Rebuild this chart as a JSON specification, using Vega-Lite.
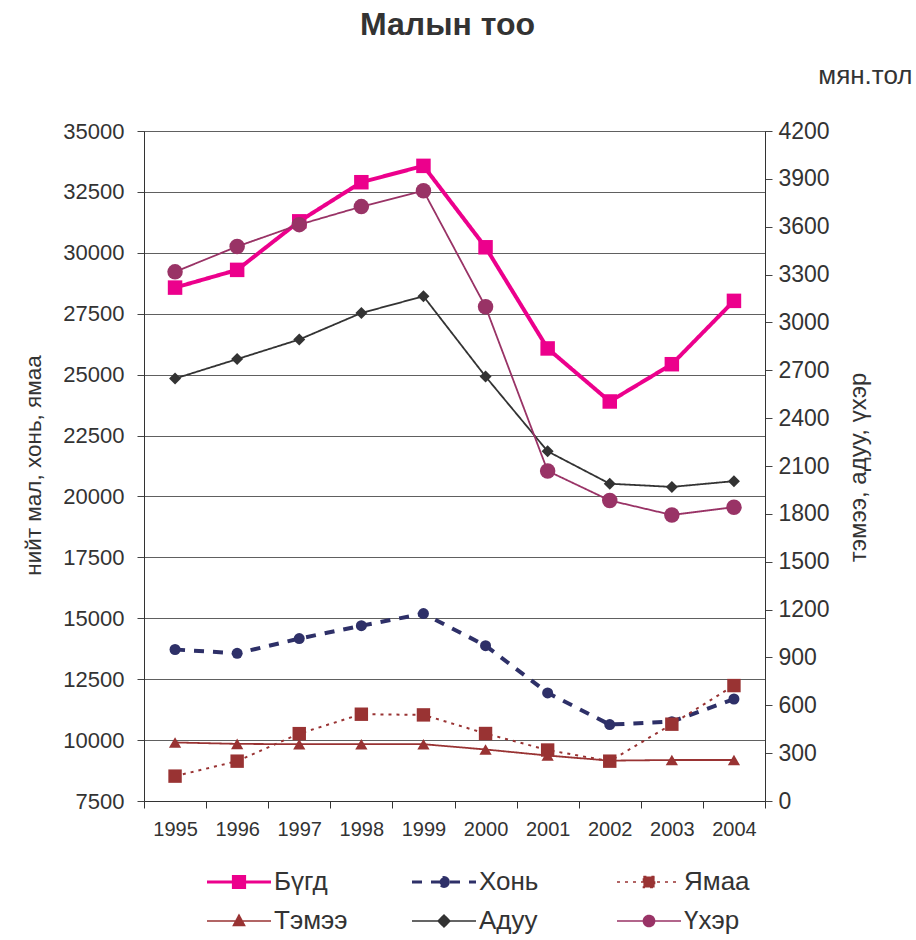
{
  "$schema": "https://vega.github.io/schema/vega-lite/v6.json",
  "width": 621,
  "height": 670,
  "autosize": "none",
  "padding": {"left": 144, "top": 131, "right": 151, "bottom": 139},
  "background": "white",
  "title": {"text": "Малын тоо", "fontSize": 32, "fontWeight": "bold", "color": "#333333", "font": "Liberation Sans", "anchor": "middle", "frame": "group", "dx": -7, "offset": 20},
  "data": {"values": [
    {"year": "1995", "series": "Бүгд", "axis": "L", "value": 28572},
    {"year": "1996", "series": "Бүгд", "axis": "L", "value": 29300},
    {"year": "1997", "series": "Бүгд", "axis": "L", "value": 31292},
    {"year": "1998", "series": "Бүгд", "axis": "L", "value": 32898},
    {"year": "1999", "series": "Бүгд", "axis": "L", "value": 33569},
    {"year": "2000", "series": "Бүгд", "axis": "L", "value": 30227},
    {"year": "2001", "series": "Бүгд", "axis": "L", "value": 26075},
    {"year": "2002", "series": "Бүгд", "axis": "L", "value": 23898},
    {"year": "2003", "series": "Бүгд", "axis": "L", "value": 25428},
    {"year": "2004", "series": "Бүгд", "axis": "L", "value": 28028},
    {"year": "1995", "series": "Хонь", "axis": "L", "value": 13718},
    {"year": "1996", "series": "Хонь", "axis": "L", "value": 13561},
    {"year": "1997", "series": "Хонь", "axis": "L", "value": 14166},
    {"year": "1998", "series": "Хонь", "axis": "L", "value": 14694},
    {"year": "1999", "series": "Хонь", "axis": "L", "value": 15191},
    {"year": "2000", "series": "Хонь", "axis": "L", "value": 13876},
    {"year": "2001", "series": "Хонь", "axis": "L", "value": 11937},
    {"year": "2002", "series": "Хонь", "axis": "L", "value": 10637},
    {"year": "2003", "series": "Хонь", "axis": "L", "value": 10756},
    {"year": "2004", "series": "Хонь", "axis": "L", "value": 11686},
    {"year": "1995", "series": "Ямаа", "axis": "L", "value": 8521},
    {"year": "1996", "series": "Ямаа", "axis": "L", "value": 9135},
    {"year": "1997", "series": "Ямаа", "axis": "L", "value": 10265},
    {"year": "1998", "series": "Ямаа", "axis": "L", "value": 11062},
    {"year": "1999", "series": "Ямаа", "axis": "L", "value": 11034},
    {"year": "2000", "series": "Ямаа", "axis": "L", "value": 10270},
    {"year": "2001", "series": "Ямаа", "axis": "L", "value": 9592},
    {"year": "2002", "series": "Ямаа", "axis": "L", "value": 9135},
    {"year": "2003", "series": "Ямаа", "axis": "L", "value": 10653},
    {"year": "2004", "series": "Ямаа", "axis": "L", "value": 12238},
    {"year": "1995", "series": "Тэмээ", "axis": "R", "value": 367},
    {"year": "1996", "series": "Тэмээ", "axis": "R", "value": 358},
    {"year": "1997", "series": "Тэмээ", "axis": "R", "value": 356},
    {"year": "1998", "series": "Тэмээ", "axis": "R", "value": 356},
    {"year": "1999", "series": "Тэмээ", "axis": "R", "value": 356},
    {"year": "2000", "series": "Тэмээ", "axis": "R", "value": 323},
    {"year": "2001", "series": "Тэмээ", "axis": "R", "value": 285},
    {"year": "2002", "series": "Тэмээ", "axis": "R", "value": 253},
    {"year": "2003", "series": "Тэмээ", "axis": "R", "value": 257},
    {"year": "2004", "series": "Тэмээ", "axis": "R", "value": 257},
    {"year": "1995", "series": "Адуу", "axis": "R", "value": 2648},
    {"year": "1996", "series": "Адуу", "axis": "R", "value": 2770},
    {"year": "1997", "series": "Адуу", "axis": "R", "value": 2893},
    {"year": "1998", "series": "Адуу", "axis": "R", "value": 3059},
    {"year": "1999", "series": "Адуу", "axis": "R", "value": 3164},
    {"year": "2000", "series": "Адуу", "axis": "R", "value": 2661},
    {"year": "2001", "series": "Адуу", "axis": "R", "value": 2192},
    {"year": "2002", "series": "Адуу", "axis": "R", "value": 1989},
    {"year": "2003", "series": "Адуу", "axis": "R", "value": 1969},
    {"year": "2004", "series": "Адуу", "axis": "R", "value": 2005},
    {"year": "1995", "series": "Үхэр", "axis": "R", "value": 3317},
    {"year": "1996", "series": "Үхэр", "axis": "R", "value": 3476},
    {"year": "1997", "series": "Үхэр", "axis": "R", "value": 3613},
    {"year": "1998", "series": "Үхэр", "axis": "R", "value": 3726},
    {"year": "1999", "series": "Үхэр", "axis": "R", "value": 3825},
    {"year": "2000", "series": "Үхэр", "axis": "R", "value": 3098},
    {"year": "2001", "series": "Үхэр", "axis": "R", "value": 2069},
    {"year": "2002", "series": "Үхэр", "axis": "R", "value": 1884},
    {"year": "2003", "series": "Үхэр", "axis": "R", "value": 1793},
    {"year": "2004", "series": "Үхэр", "axis": "R", "value": 1842}
  ]},
  "encoding": {
    "color": {
      "field": "series", "type": "nominal",
      "scale": {"domain": ["Бүгд", "Хонь", "Ямаа", "Тэмээ", "Адуу", "Үхэр"], "range": ["#EC008C", "#2E3068", "#993333", "#993333", "#333333", "#993366"]},
      "legend": {
        "title": null, "orient": "none", "legendX": 82, "legendY": 738, "direction": "horizontal", "columns": 3,
        "labelFontSize": 26, "labelColor": "#333333", "labelFont": "Liberation Sans",
        "symbolSize": 256, "labelOffset": 22, "columnPadding": 58, "rowPadding": 13, "gridAlign": "all", "padding": 0,
        "encode": {"symbols": {"update": {
          "shape": {"signal": "datum.value === 'Бүгд' || datum.value === 'Ямаа' ? 'M-4,0L4,0M-0.7,-0.7L0.7,-0.7L0.7,0.7L-0.7,0.7Z' : datum.value === 'Хонь' ? 'M-4,0L4,0M0.55,0A0.55,0.55,0,1,1,-0.55,0A0.55,0.55,0,1,1,0.55,0Z' : datum.value === 'Тэмээ' ? 'M-4,0L4,0M0,-0.75L0.7,0.55L-0.7,0.55Z' : datum.value === 'Адуу' ? 'M-4,0L4,0M0,-0.75L0.75,0L0,0.75L-0.75,0Z' : 'M-4,0L4,0M0.7,0A0.7,0.7,0,1,1,-0.7,0A0.7,0.7,0,1,1,0.7,0Z'"},
          "fill": {"signal": "scale('color', datum.value)"},
          "stroke": {"signal": "scale('color', datum.value)"},
          "strokeWidth": {"signal": "datum.value === 'Бүгд' || datum.value === 'Хонь' ? 3 : 1.5"},
          "strokeDash": {"signal": "datum.value === 'Хонь' ? [8, 9] : datum.value === 'Ямаа' ? [3, 5] : [1, 0]"},
          "size": {"value": 256},
          "opacity": {"value": 1},
          "fillOpacity": {"value": 1},
          "strokeOpacity": {"value": 1}
        }}}
      }
    }
  },
  "layer": [
    {
      "transform": [{"filter": "datum.axis === 'L'"}],
      "encoding": {
        "x": {
          "field": "year", "type": "ordinal", "bandPosition": 0.5,
          "scale": {"type": "band", "paddingInner": 0, "paddingOuter": 0},
          "axis": {"orient": "bottom", "title": null, "labelAngle": 0, "labelFontSize": 20, "labelColor": "#333333", "labelPadding": 11, "tickSize": 7, "tickBand": "extent", "tickColor": "#333333", "domainColor": "#333333", "grid": false}
        },
        "y": {
          "field": "value", "type": "quantitative",
          "scale": {"domain": [7500, 35000], "nice": false, "zero": false},
          "axis": {"orient": "left", "values": [7500, 10000, 12500, 15000, 17500, 20000, 22500, 25000, 27500, 30000, 32500, 35000], "format": "d", "title": "нийт мал, хонь, ямаа", "titleFontSize": 22.5, "titleFontWeight": "normal", "titleColor": "#333333", "titleX": -111, "titleY": 334, "titleAngle": 270, "titleAlign": "center", "titleBaseline": "middle", "labelFontSize": 22, "labelColor": "#333333", "labelPadding": 13, "tickSize": 7, "tickColor": "#444444", "domainColor": "#333333", "grid": true, "gridColor": "#606060", "gridWidth": 1.2}
        }
      },
      "layer": [
        {
          "transform": [{"filter": {"field": "series", "oneOf": ["Бүгд", "Хонь"]}}],
          "mark": {"type": "line", "strokeWidth": 4},
          "encoding": {
            "strokeDash": {"field": "series", "type": "nominal", "scale": {"domain": ["Бүгд", "Хонь", "Ямаа", "Тэмээ", "Адуу", "Үхэр"], "range": [[1, 0], [10, 9], [3, 5], [1, 0], [1, 0], [1, 0]]}, "legend": null}
          }
        },
        {
          "transform": [{"filter": {"field": "series", "equal": "Ямаа"}}],
          "mark": {"type": "line", "strokeWidth": 2},
          "encoding": {
            "strokeDash": {"field": "series", "type": "nominal", "scale": {"domain": ["Бүгд", "Хонь", "Ямаа", "Тэмээ", "Адуу", "Үхэр"], "range": [[1, 0], [10, 9], [3, 5], [1, 0], [1, 0], [1, 0]]}, "legend": null}
          }
        },
        {
          "transform": [{"filter": {"field": "series", "equal": "Бүгд"}}],
          "mark": {"type": "point", "filled": true, "opacity": 1, "shape": "square", "size": 210}
        },
        {
          "transform": [{"filter": {"field": "series", "equal": "Хонь"}}],
          "mark": {"type": "point", "filled": true, "opacity": 1, "shape": "circle", "size": 121}
        },
        {
          "transform": [{"filter": {"field": "series", "equal": "Ямаа"}}],
          "mark": {"type": "point", "filled": true, "opacity": 1, "shape": "square", "size": 180}
        }
      ]
    },
    {
      "transform": [{"filter": "datum.axis === 'R'"}],
      "encoding": {
        "x": {
          "field": "year", "type": "ordinal", "bandPosition": 0.5,
          "scale": {"type": "band", "paddingInner": 0, "paddingOuter": 0},
          "axis": {"orient": "top", "labels": false, "ticks": false, "domain": false, "grid": false, "title": "мян.тол", "titleX": 768, "titleY": -48, "titleAlign": "right", "titleBaseline": "alphabetic", "titleAngle": 0, "titleFontSize": 26, "titleFontWeight": "normal", "titleColor": "#333333"}
        },
        "y": {
          "field": "value", "type": "quantitative",
          "scale": {"domain": [0, 4200], "nice": false},
          "axis": {"orient": "right", "values": [0, 300, 600, 900, 1200, 1500, 1800, 2100, 2400, 2700, 3000, 3300, 3600, 3900, 4200], "format": "d", "title": "тэмээ, адуу, үхэр", "titleFontSize": 24, "titleFontWeight": "normal", "titleColor": "#333333", "titleX": 93, "titleY": 336, "titleAngle": 270, "titleAlign": "center", "titleBaseline": "middle", "labelFontSize": 23, "labelColor": "#333333", "labelPadding": 6, "tickSize": 7, "tickColor": "#444444", "domainColor": "#333333", "grid": false}
        }
      },
      "layer": [
        {
          "mark": {"type": "line", "strokeWidth": 1.8},
          "encoding": {
            "strokeDash": {"field": "series", "type": "nominal", "scale": {"domain": ["Бүгд", "Хонь", "Ямаа", "Тэмээ", "Адуу", "Үхэр"], "range": [[1, 0], [10, 9], [3, 5], [1, 0], [1, 0], [1, 0]]}, "legend": null}
          }
        },
        {
          "transform": [{"filter": {"field": "series", "equal": "Тэмээ"}}],
          "mark": {"type": "point", "filled": true, "opacity": 1, "shape": "triangle-up", "size": 150}
        },
        {
          "transform": [{"filter": {"field": "series", "equal": "Адуу"}}],
          "mark": {"type": "point", "filled": true, "opacity": 1, "shape": "diamond", "size": 144}
        },
        {
          "transform": [{"filter": {"field": "series", "equal": "Үхэр"}}],
          "mark": {"type": "point", "filled": true, "opacity": 1, "shape": "circle", "size": 240}
        }
      ]
    }
  ],
  "resolve": {"scale": {"y": "independent"}, "axis": {"y": "independent", "x": "independent"}},
  "config": {
    "font": "Liberation Sans",
    "view": {"stroke": "#555555", "strokeWidth": 1}
  }
}
